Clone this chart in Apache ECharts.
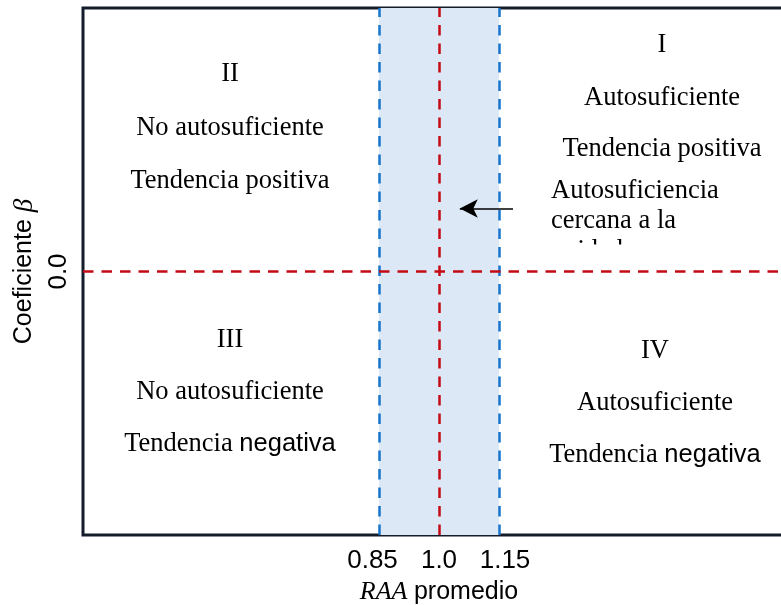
<!DOCTYPE html>
<html><head><meta charset="utf-8">
<script src="https://cdn.jsdelivr.net/npm/echarts@6/dist/echarts.min.js"></script>
<style>html,body{margin:0;padding:0;background:#fff}#c{width:781px;height:605px}</style>
</head><body><div id="c"></div>
<script>
// Data
const xRange = [0.11, 1.89];
const yRange = [-1, 1];
const xTicks = [0.85, 1.0, 1.15];
const xTickLabels = ['0.85', '1.0', '1.15'];
const yTicks = [0];
const yTickLabels = ['0.0'];
const bandRange = [0.85, 1.15];
const refX = 1.0;
const refY = 0.0;
// quadrant texts: [x, y, text]
const quadrantII = [[0.4775, 0.751, 'II'], [0.4775, 0.543, 'No autosuficiente'], [0.4775, 0.345, 'Tendencia positiva']];
const quadrantI = [[1.5575, 0.858, 'I'], [1.5575, 0.660, 'Autosuficiente'], [1.5575, 0.463, 'Tendencia positiva']];
const quadrantIII = [[0.4775, -0.262, 'III'], [0.4775, -0.459, 'No autosuficiente'], [0.4775, -0.653, 'Tendencia|negativa']];
const quadrantIV = [[1.54, -0.30, 'IV'], [1.54, -0.50, 'Autosuficiente'], [1.54, -0.695, 'Tendencia|negativa']];
const noteText = [[1.28, 0.304, 'Autosuficiencia'], [1.28, 0.190, 'cercana a la'], [1.28, 0.076, 'unidad']];
const arrowFrom = [1.185, 0.239];
const arrowTo = [1.052, 0.239];

const SERIF = '"Liberation Serif", "Times New Roman", serif';
const SANS = '"Liberation Sans", Arial, sans-serif';
const RED = '#c40a14';
const BLUE = '#1674cc';
const FS = 26.5;

function textSeries(points, align) {
  return {
    type: 'scatter', symbolSize: 0, silent: true, z: 5,
    data: points.map(p => ({ value: [p[0], p[1]], name: p[2] })),
    itemStyle: { color: '#000', opacity: 1 },
    label: {
      show: true, position: 'inside', align: align || 'center', verticalAlign: 'middle',
      fontFamily: SERIF, fontSize: FS, color: '#000', opacity: 1, textBorderWidth: 0, textShadowBlur: 0,
      formatter: function (pr) {
        const n = pr.name;
        if (n.indexOf('|') >= 0) { const s = n.split('|'); return '{a|' + s[0] + ' }{b|' + s[1] + '}'; }
        return '{a|' + n + '}';
      },
      rich: {
        a: { fontFamily: SERIF, fontSize: FS, color: '#000', textBorderWidth: 0 },
        b: { fontFamily: SANS, fontSize: FS - 1, color: '#000', textBorderWidth: 0 }
      }
    }
  };
}

const chart = echarts.init(document.getElementById('c'), null, { renderer: 'canvas' });
const option = {
  animation: false,
  backgroundColor: '#fff',
  grid: { left: 83, right: -14, top: 8, bottom: 70, outerBoundsMode: 'none', containLabel: false, show: true, borderColor: '#141c2c', borderWidth: 3, backgroundColor: 'transparent' },
  xAxis: {
    type: 'value', min: xRange[0], max: xRange[1],
    splitLine: { show: false }, axisLine: { show: false }, axisTick: { show: false },
    axisLabel: {
      customValues: xTicks, fontFamily: SANS, fontSize: 26, color: '#000', margin: 13,
      formatter: v => {
        const i = xTicks.findIndex(t => Math.abs(t - v) < 1e-9);
        if (i < 0) return '';
        const key = i === 0 ? 'l' : (i === xTicks.length - 1 ? 'r' : 'm');
        return '{' + key + '|' + xTickLabels[i] + '}';
      },
      rich: {
        l: { fontFamily: SANS, fontSize: 26, color: '#000', padding: [0, 13, 0, 0] },
        m: { fontFamily: SANS, fontSize: 26, color: '#000' },
        r: { fontFamily: SANS, fontSize: 26, color: '#000', padding: [0, 0, 0, 12] }
      }
    },
    name: '{i|RAA }{n|promedio}', nameLocation: 'middle', nameGap: 43,
    nameTextStyle: { rich: { i: { fontFamily: SERIF, fontStyle: 'italic', fontSize: 26, color: '#000' }, n: { fontFamily: SANS, fontSize: 25, color: '#000' } } }
  },
  yAxis: {
    type: 'value', min: yRange[0], max: yRange[1],
    splitLine: { show: false }, axisLine: { show: false }, axisTick: { show: false },
    axisLabel: {
      customValues: yTicks, rotate: 90, fontFamily: SANS, fontSize: 26, color: '#000', margin: 11,
      formatter: v => { const i = yTicks.findIndex(t => Math.abs(t - v) < 1e-9); return i >= 0 ? yTickLabels[i] : ''; }
    },
    name: '{n|Coeficiente }{i|β}', nameLocation: 'middle', nameGap: 36, nameRotate: 90,
    nameTextStyle: { rich: { i: { fontFamily: SERIF, fontStyle: 'italic', fontSize: 27, color: '#000' }, n: { fontFamily: SANS, fontSize: 25, color: '#000' } } }
  },
  series: [
    {
      type: 'line', data: [], silent: true,
      markArea: { silent: true, itemStyle: { color: '#dce8f5' }, data: [[{ xAxis: bandRange[0] }, { xAxis: bandRange[1] }]] },
      markLine: {
        silent: true, symbol: 'none', label: { show: false },
        lineStyle: { color: BLUE, width: 2.5, type: [10.5, 8] },
        data: [{ xAxis: bandRange[0] }, { xAxis: bandRange[1] }]
      }
    },
    {
      type: 'line', data: [], silent: true,
      markLine: {
        silent: true, symbol: 'none', label: { show: false },
        lineStyle: { color: RED, width: 2.5, type: [10.5, 8] },
        data: [{ xAxis: refX }, { yAxis: refY }]
      }
    },
    {
      type: 'line', data: [], silent: true,
      markLine: {
        silent: true, symbol: ['none', 'arrow'], symbolSize: [14, 18], label: { show: false },
        itemStyle: { color: '#000' },
        lineStyle: { color: '#000', width: 1.6, type: 'solid' },
        data: [[{ coord: arrowFrom }, { coord: arrowTo }]]
      }
    },
    textSeries(quadrantII), textSeries(quadrantI), textSeries(quadrantIII), textSeries(quadrantIV),
    textSeries(noteText, 'left')
  ]
};
chart.setOption(option);
// cover part of the clipped third line of the note, as in the original
const p = chart.convertToPixel({ gridIndex: 0 }, [noteText[2][0], noteText[2][1]]);
chart.setOption({ graphic: [{ type: 'rect', z: 100, shape: { x: p[0] - 5, y: p[1] - 7, width: 140, height: 22 }, style: { fill: '#fff' } }] });
</script></body></html>
